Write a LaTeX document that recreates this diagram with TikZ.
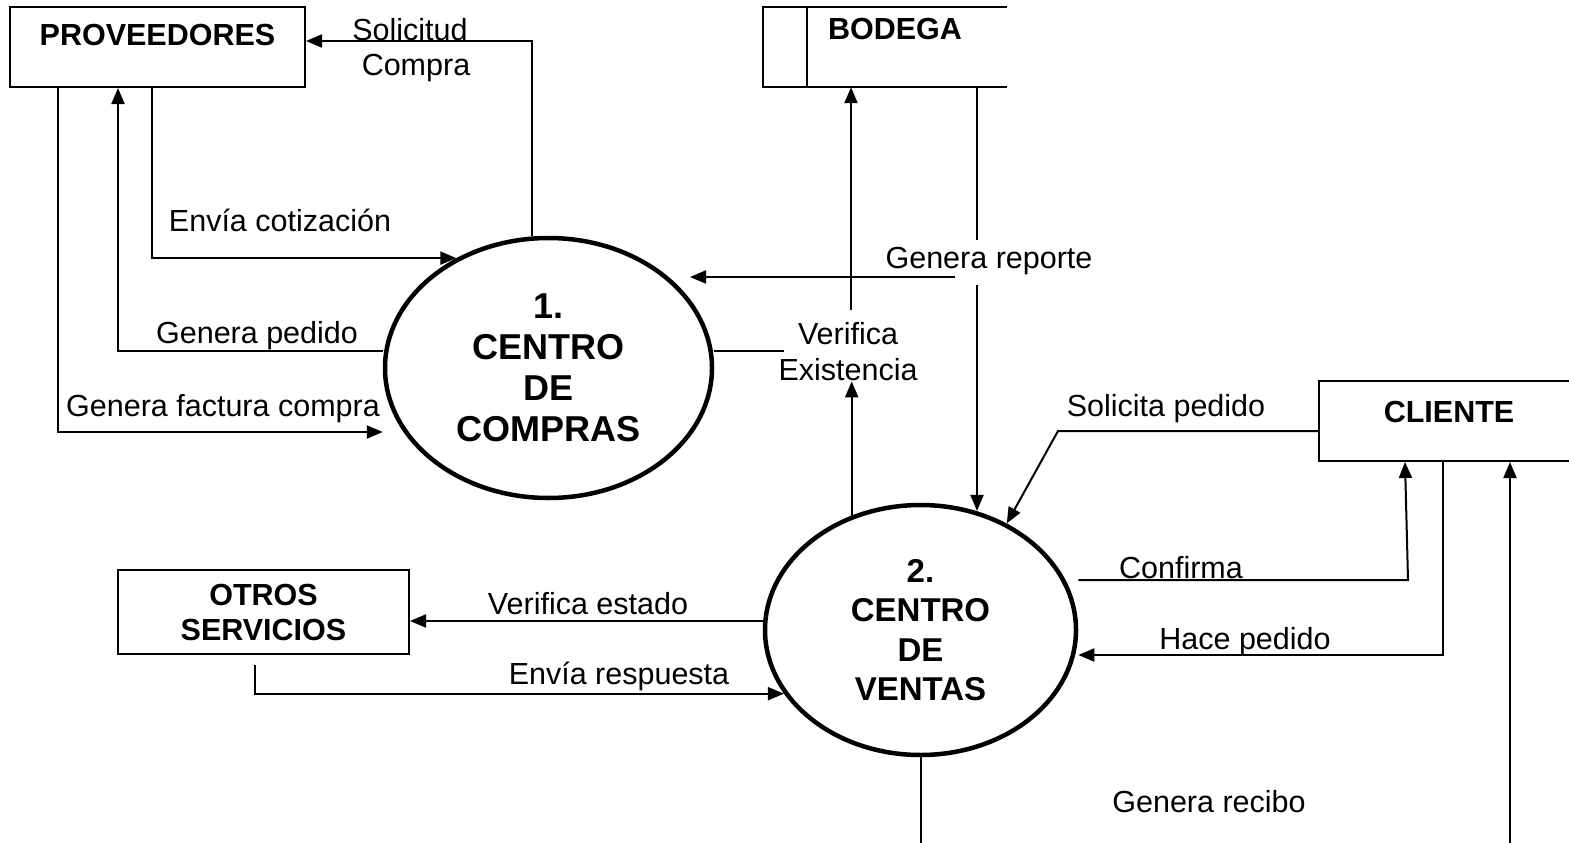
\documentclass[tikz,border=0pt]{standalone}
\usepackage{fontspec}
\setmainfont{Liberation Sans}
\usetikzlibrary{arrows.meta,shapes.geometric,calc}
\begin{document}
\begin{tikzpicture}[x=1pt,y=-1pt,
  lbl/.style={font=\fontsize{30.5}{36}\selectfont, inner sep=0pt, anchor=base},
  boxnode/.style={draw, line width=2pt, font=\bfseries\fontsize{30.5}{35}\selectfont, inner sep=0pt},
  boldtxt/.style={font=\bfseries\fontsize{30.5}{35}\selectfont, inner sep=0pt, anchor=base},
  proc/.style={ellipse, draw, line width=4.5pt, inner sep=0pt, align=center},
  arr/.style={line width=2pt, -{Triangle[length=16pt,width=13pt]}},
  ln/.style={line width=2pt}]
\useasboundingbox (0,0) rectangle (1569,843);

% entities
\node[boxnode, minimum width=295pt, minimum height=80pt, text height=39pt, text depth=41pt] (prov) at (157.5,47) {PROVEEDORES};
\node[boxnode, minimum width=291pt, minimum height=84pt, align=center] (otros) at (263.5,612) {OTROS\\SERVICIOS};
\node[boxnode, minimum width=260pt, minimum height=80pt, text height=41pt, text depth=39pt] (cli) at (1449,421) {CLIENTE};

% data store
\node[minimum width=244pt, minimum height=80pt, inner sep=0pt] (bod) at (885,47) {};
\draw[ln] (bod.north east) -- (bod.north west) -- (bod.south west) -- (bod.south east);
\draw[ln] (bod.north west -| 807,0) -- (bod.south west -| 807,0);
\node[boldtxt] (bodt) at (895,40) {BODEGA};

% processes
\node[proc, minimum width=327pt, minimum height=260pt, font=\bfseries\fontsize{36}{41}\selectfont] (c1) at (548.5,368) {1.\\CENTRO\\DE\\COMPRAS};
\node[proc, minimum width=311pt, minimum height=250pt, font=\bfseries\fontsize{33}{39.5}\selectfont] (c2) at (920.5,630) {2.\\CENTRO\\DE\\VENTAS};

% label for verifica existencia
\node[lbl, anchor=center, align=center] (ve) at (848,352) {Verifica\\Existencia};

% connectors around PROVEEDORES
\draw[arr] (c1.97) |- (prov.east |- 0,41);
\draw[arr] (prov.south -| 152,0) |- (c1.130);
\draw[arr] (c1.west |- 0,351) -| (prov.south -| 118,0);
\draw[arr] (prov.south -| 58,0) |- (c1.west |- 0,432);

% BODEGA connectors
\coordinate (grs) at (955,277);
\coordinate (gre) at (690,277);
\draw[arr] (grs) -- (gre);
\coordinate (gv1) at (977,240);
\coordinate (gv2) at (977,285);
\draw[ln] (bod.south -| gv1) -- (gv1);
\draw[arr] (gv2) -- (gv2 |- c2.65);
\draw[ln] (c1.east |- 0,351) -- ($(ve.west |- 0,351)+(6,0)$);
\coordinate (vu) at (851,310);
\draw[arr] (vu) -- (bod.south -| vu);
\draw[arr] (c2.121) -- (c2.121 |- ve.south);

% CLIENTE connectors
\coordinate (spb) at (1058,431);
\draw[arr] (cli.west |- spb) -- (spb) -- (c2.51);
\coordinate (cfb) at (1408,580);
\draw[arr] (c2.east |- cfb) -- (cfb) -- (cli.south -| 1405,0);
\draw[arr] (cli.south -| 1443,0) |- (c2.east |- 0,655);
\coordinate (grb) at (1510,850);
\draw[ln] (c2.south) -- (c2.south |- grb);
\draw[arr] (grb) -- (cli.south -| grb);

% OTROS SERVICIOS connectors
\draw[arr] (c2.west |- 0,621) -- (otros.east |- 0,621);
\coordinate (ers) at (255,665);
\draw[arr] (ers) |- (c2.205);

% labels
\node[lbl] (l1) at (410,41) {Solicitud};
\node[lbl] (l2) at (416,76) {Compra};
\node[lbl] (l3) at (280,231) {Envía cotización};
\node[lbl] (l4) at (257,343) {Genera pedido};
\node[lbl] (l5) at (223,416) {Genera factura compra};
\node[lbl] (l6) at (989,268) {Genera reporte};
\node[lbl] (l7) at (1166,416) {Solicita pedido};
\node[lbl] (l8) at (1181,578) {Confirma};
\node[lbl] (l9) at (1245,649) {Hace pedido};
\node[lbl] (l10) at (588,614) {Verifica estado};
\node[lbl] (l11) at (619,684) {Envía respuesta};
\node[lbl] (l12) at (1209,812) {Genera recibo};
\end{tikzpicture}
\end{document}
